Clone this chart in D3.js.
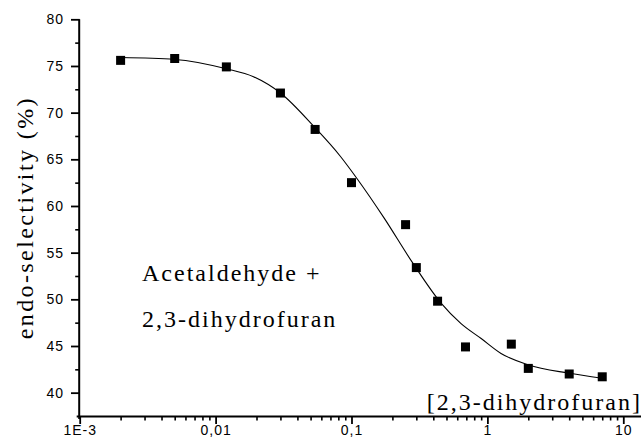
<!DOCTYPE html>
<html>
<head>
<meta charset="utf-8">
<script src="https://cdn.jsdelivr.net/npm/d3@7"></script>
<style>
  body { margin: 0; background: #fff; }
  svg { display: block; }
</style>
</head>
<body>
<script>

// measured points: concentration of 2,3-dihydrofuran and endo-selectivity (%)
let conc = [0.002, 0.005, 0.012, 0.030, 0.054, 0.10, 0.25, 0.30, 0.43, 0.69, 1.5, 2.0, 4.0, 7.0];
let endo = [75.6, 75.8, 74.9, 72.1, 68.2, 62.5, 58.0, 53.4, 49.8, 44.9, 45.2, 42.6, 42.0, 41.7];

// fitted line
let fitX = [0.002, 0.005, 0.012, 0.019, 0.030, 0.053, 0.083, 0.109, 0.174, 0.282, 0.456, 0.64, 0.90, 1.26, 1.99, 3.93, 7.0];
let fitY = [75.9, 75.7, 74.7, 73.85, 72.1, 68.5, 65.3, 63.0, 58.7, 53.9, 49.6, 47.4, 45.8, 44.2, 43.0, 42.1, 41.55];

// tick labels
let xTicks = [0.001, 0.01, 0.1, 1, 10];
let xTickLabels = ["1E-3", "0,01", "0,1", "1", "10"];
let yTicks = [40, 45, 50, 55, 60, 65, 70, 75, 80];

let width = 644;
let height = 446;
let margin = ({top: 19.3, right: 3, bottom: 30, left: 79.7});

let x = d3.scaleLog()
  .domain([0.001, 13.5])
  .range([margin.left, width - margin.right]);

let y = d3.scaleLinear()
  .domain([37.5, 80])
  .range([height - margin.bottom, margin.top]);

let svg = d3.select("body")
  .append("svg")
  .attr("width", width)
  .attr("height", height);

// minor ticks
let xMinor = [];
for (let e = -3; e < 1; e++) {
  for (let k = 2; k <= 9; k++) xMinor.push(k * Math.pow(10, e));
}
let yMinor = d3.range(42.5, 80, 5);

svg.append("g")
  .attr("transform", `translate(0,${height - margin.bottom})`)
  .call(d3.axisBottom(x).tickValues(xMinor).tickSize(4.5).tickFormat(""))
  .call(g => g.select(".domain").remove())
  .call(g => g.selectAll("line").attr("stroke-width", 1.6));

svg.append("g")
  .attr("transform", `translate(${margin.left},0)`)
  .call(d3.axisLeft(y).tickValues(yMinor).tickSize(4.5).tickFormat(""))
  .call(g => g.select(".domain").remove())
  .call(g => g.selectAll("line").attr("stroke-width", 1.6));

// x axis
svg.append("g")
  .attr("transform", `translate(0,${height - margin.bottom})`)
  .call(d3.axisBottom(x).tickValues(xTicks).tickSize(8).tickPadding(1)
    .tickFormat((d, i) => xTickLabels[i]).tickSizeOuter(0))
  .call(g => g.select(".domain").attr("stroke-width", 2).attr("d", `M${margin.left - 3},0.5H${width - margin.right}`))
  .call(g => g.selectAll("line").attr("stroke-width", 1.8))
  .call(g => g.selectAll("text")
    .attr("fill", "#000")
    .style("font-family", "'Liberation Sans', Arial, sans-serif")
    .style("font-size", "14px")
    .style("letter-spacing", "1px"));

// y axis
svg.append("g")
  .attr("transform", `translate(${margin.left},0)`)
  .call(d3.axisLeft(y).tickValues(yTicks).tickSize(8.7).tickPadding(7).tickSizeOuter(0))
  .call(g => g.select(".domain").attr("stroke-width", 2).attr("d", `M-0.5,${margin.top}V${height - margin.bottom + 3}`))
  .call(g => g.selectAll("line").attr("stroke-width", 1.8))
  .call(g => g.selectAll("text")
    .attr("fill", "#000")
    .style("font-family", "'Liberation Sans', Arial, sans-serif")
    .style("font-size", "14px")
    .style("letter-spacing", "1px"));

// y label
svg.append("text")
  .attr("transform", `translate(33,${(margin.top + height - margin.bottom) / 2}) rotate(-90)`)
  .attr("text-anchor", "middle")
  .style("font-family", "'Liberation Serif', 'Times New Roman', serif")
  .style("font-size", "24px")
  .style("letter-spacing", "2.4px")
  .text("endo-selectivity (%)");

// fitted curve
let fit = fitX.map((d, i) => ({x: d, y: fitY[i]}));
svg.append("path")
  .datum(fit)
  .attr("fill", "none")
  .attr("stroke", "#000")
  .attr("stroke-width", 1.1)
  .attr("d", d3.line()
    .x(d => x(d.x))
    .y(d => y(d.y))
    .curve(d3.curveMonotoneX));

// points
let pts = conc.map((d, i) => ({x: d, y: endo[i]}));
let size = 9;
svg.append("g")
  .selectAll("rect")
  .data(pts)
  .join("rect")
    .attr("x", d => x(d.x) - size / 2)
    .attr("y", d => y(d.y) - size / 2)
    .attr("width", size)
    .attr("height", size)
    .attr("fill", "#000");

// annotations
let serif = "'Liberation Serif', 'Times New Roman', serif";
svg.append("text")
  .attr("x", 142)
  .attr("y", 280.7)
  .style("font-family", serif)
  .style("font-size", "24px")
  .style("letter-spacing", "2px")
  .text("Acetaldehyde +");

svg.append("text")
  .attr("x", 142)
  .attr("y", 327.3)
  .style("font-family", serif)
  .style("font-size", "24px")
  .style("letter-spacing", "2px")
  .text("2,3-dihydrofuran");

svg.append("text")
  .attr("x", 642)
  .attr("y", 410)
  .attr("text-anchor", "end")
  .style("font-family", serif)
  .style("font-size", "24px")
  .style("letter-spacing", "2px")
  .text("[2,3-dihydrofuran]");

</script>
</body>
</html>
